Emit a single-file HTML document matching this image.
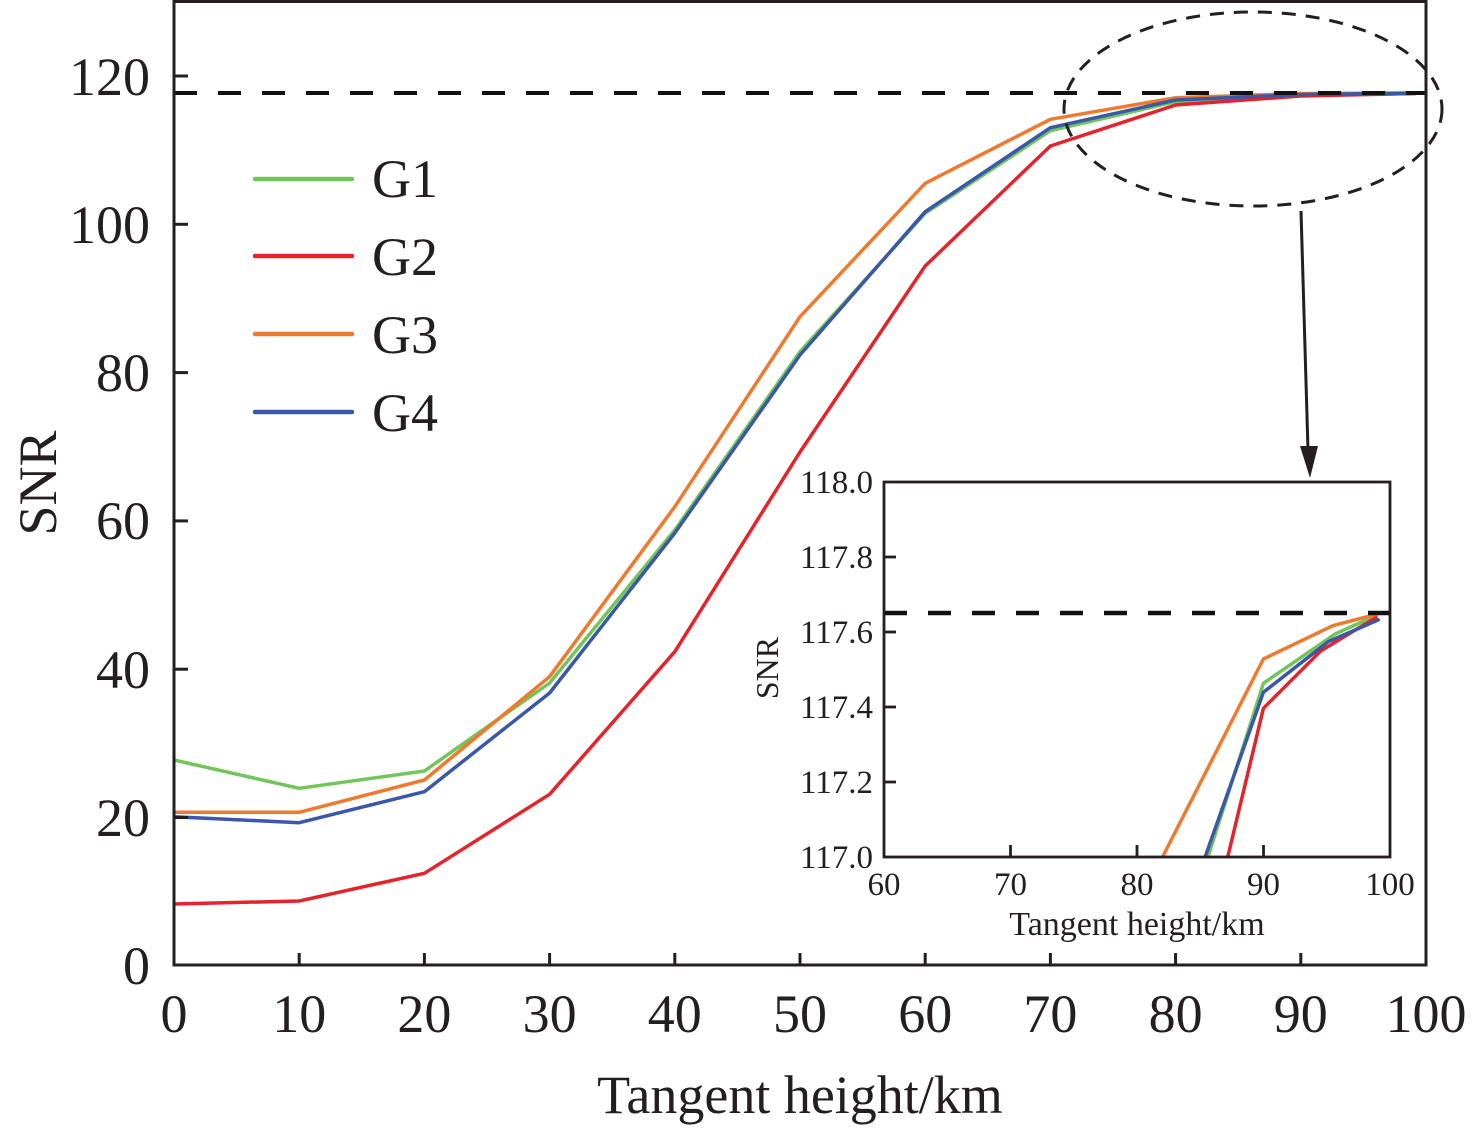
<!DOCTYPE html>
<html>
<head>
<meta charset="utf-8">
<style>
html,body{margin:0;padding:0;background:#fff;}
svg{display:block;}
text{font-family:"Liberation Serif","Times New Roman",serif;fill:#231f20;}
</style>
</head>
<body>
<svg width="1476" height="1131" viewBox="0 0 1476 1131" xmlns="http://www.w3.org/2000/svg">
<defs>
<clipPath id="mainclip"><rect x="174" y="2" width="1252" height="963"/></clipPath>
<clipPath id="insclip"><rect x="884" y="482" width="506" height="375"/></clipPath>
</defs>
<rect x="0" y="0" width="1476" height="1131" fill="#fff"/>

<!-- main series -->
<g clip-path="url(#mainclip)" fill="none" stroke-width="3.5" stroke-linejoin="round">
<polyline stroke="#72c55a" points="174,760 299.2,788.3 424.4,771 549.6,683 674.8,530 800,351.7 925.2,213.3 1050.4,130.7 1175.6,101.7 1300.8,95 1416,93.5"/>
<polyline stroke="#e4232b" points="174,904 299.2,901 424.4,873.3 549.6,794.3 674.8,651.7 800,452 925.2,266 1050.4,146 1175.6,105 1300.8,96 1416,93.5"/>
<polyline stroke="#ef7a2e" points="174,812.3 299.2,812.3 424.4,780 549.6,676.7 674.8,506.7 800,316.7 925.2,183.3 1050.4,119.3 1175.6,97.7 1300.8,93.5 1416,93"/>
<polyline stroke="#3a57a8" points="174,816.7 299.2,822.7 424.4,791.7 549.6,693 674.8,533 800,355 925.2,211.7 1050.4,127.7 1175.6,100 1300.8,94.5 1416,93"/>
</g>

<!-- main dashed reference line -->
<line x1="174" y1="93" x2="1426" y2="93" stroke="#111" stroke-width="4" stroke-dasharray="23 21"/>

<!-- main frame -->
<rect x="174" y="1.5" width="1252" height="963.5" fill="none" stroke="#231f20" stroke-width="3"/>

<!-- y ticks -->
<g stroke="#231f20" stroke-width="3">
<line x1="174" y1="817.5" x2="188" y2="817.5"/>
<line x1="174" y1="669.2" x2="188" y2="669.2"/>
<line x1="174" y1="520.9" x2="188" y2="520.9"/>
<line x1="174" y1="372.6" x2="188" y2="372.6"/>
<line x1="174" y1="224.3" x2="188" y2="224.3"/>
<line x1="174" y1="76" x2="188" y2="76"/>
<!-- x ticks -->
<line x1="299.2" y1="965" x2="299.2" y2="953"/>
<line x1="424.4" y1="965" x2="424.4" y2="953"/>
<line x1="549.6" y1="965" x2="549.6" y2="953"/>
<line x1="674.8" y1="965" x2="674.8" y2="953"/>
<line x1="800" y1="965" x2="800" y2="953"/>
<line x1="925.2" y1="965" x2="925.2" y2="953"/>
<line x1="1050.4" y1="965" x2="1050.4" y2="953"/>
<line x1="1175.6" y1="965" x2="1175.6" y2="953"/>
<line x1="1300.8" y1="965" x2="1300.8" y2="953"/>
</g>

<!-- y tick labels -->
<g font-size="54" text-anchor="end">
<text x="150" y="984">0</text>
<text x="150" y="836">20</text>
<text x="150" y="688">40</text>
<text x="150" y="539">60</text>
<text x="150" y="391">80</text>
<text x="150" y="243">100</text>
<text x="150" y="95">120</text>
</g>
<!-- x tick labels -->
<g font-size="54" text-anchor="middle">
<text x="174" y="1032">0</text>
<text x="299.2" y="1032">10</text>
<text x="424.4" y="1032">20</text>
<text x="549.6" y="1032">30</text>
<text x="674.8" y="1032">40</text>
<text x="800" y="1032">50</text>
<text x="925.2" y="1032">60</text>
<text x="1050.4" y="1032">70</text>
<text x="1175.6" y="1032">80</text>
<text x="1300.8" y="1032">90</text>
<text x="1426" y="1032">100</text>
</g>
<text x="800" y="1113" font-size="54" text-anchor="middle">Tangent height/km</text>
<text transform="translate(56,483) rotate(-90)" font-size="54" text-anchor="middle">SNR</text>

<!-- legend -->
<g stroke-width="4.5" stroke-linecap="round">
<line x1="255" y1="179" x2="352" y2="179" stroke="#72c55a"/>
<line x1="255" y1="256" x2="352" y2="256" stroke="#e4232b"/>
<line x1="255" y1="334" x2="352" y2="334" stroke="#ef7a2e"/>
<line x1="255" y1="412" x2="352" y2="412" stroke="#3a57a8"/>
</g>
<g font-size="54">
<text x="372" y="197">G1</text>
<text x="372" y="275">G2</text>
<text x="372" y="353">G3</text>
<text x="372" y="431">G4</text>
</g>

<!-- ellipse highlight -->
<ellipse cx="1253" cy="109" rx="189" ry="97" fill="none" stroke="#231f20" stroke-width="3" stroke-dasharray="14 10"/>

<!-- arrow -->
<line x1="1301" y1="211" x2="1308" y2="450" stroke="#231f20" stroke-width="3"/>
<polygon points="1300,446 1318,446 1310,478" fill="#231f20"/>

<!-- inset -->
<rect x="884" y="482" width="506" height="375" fill="#fff"/>
<g clip-path="url(#insclip)" fill="none" stroke-width="3.5" stroke-linejoin="round">
<polyline stroke="#72c55a" points="1207,860 1263.4,683.3 1335.1,634 1377.3,615"/>
<polyline stroke="#e4232b" points="1227,860 1263.4,708.3 1321,650.7 1377.3,616.7"/>
<polyline stroke="#ef7a2e" points="1161,860 1263.4,659 1332.8,625.7 1377.3,614"/>
<polyline stroke="#3a57a8" points="1204,860 1263.4,692.3 1328.1,641.7 1379.6,619.3"/>
</g>
<line x1="884" y1="613" x2="1390" y2="613" stroke="#111" stroke-width="4.5" stroke-dasharray="23 21"/>
<rect x="884" y="482" width="506" height="375" fill="none" stroke="#231f20" stroke-width="2.8"/>
<g stroke="#231f20" stroke-width="2.8">
<line x1="884" y1="557" x2="896" y2="557"/>
<line x1="884" y1="632" x2="896" y2="632"/>
<line x1="884" y1="707" x2="896" y2="707"/>
<line x1="884" y1="782" x2="896" y2="782"/>
<line x1="1010.5" y1="857" x2="1010.5" y2="845"/>
<line x1="1137" y1="857" x2="1137" y2="845"/>
<line x1="1263.5" y1="857" x2="1263.5" y2="845"/>
</g>
<g font-size="33" text-anchor="end">
<text x="873" y="493">118.0</text>
<text x="873" y="568">117.8</text>
<text x="873" y="643">117.6</text>
<text x="873" y="718">117.4</text>
<text x="873" y="793">117.2</text>
<text x="873" y="868">117.0</text>
</g>
<g font-size="33" text-anchor="middle">
<text x="884" y="895">60</text>
<text x="1010.5" y="895">70</text>
<text x="1137" y="895">80</text>
<text x="1263.5" y="895">90</text>
<text x="1390" y="895">100</text>
</g>
<text x="1137" y="935" font-size="34" text-anchor="middle">Tangent height/km</text>
<text transform="translate(778,668) rotate(-90)" font-size="32" text-anchor="middle">SNR</text>
</svg>
</body>
</html>
